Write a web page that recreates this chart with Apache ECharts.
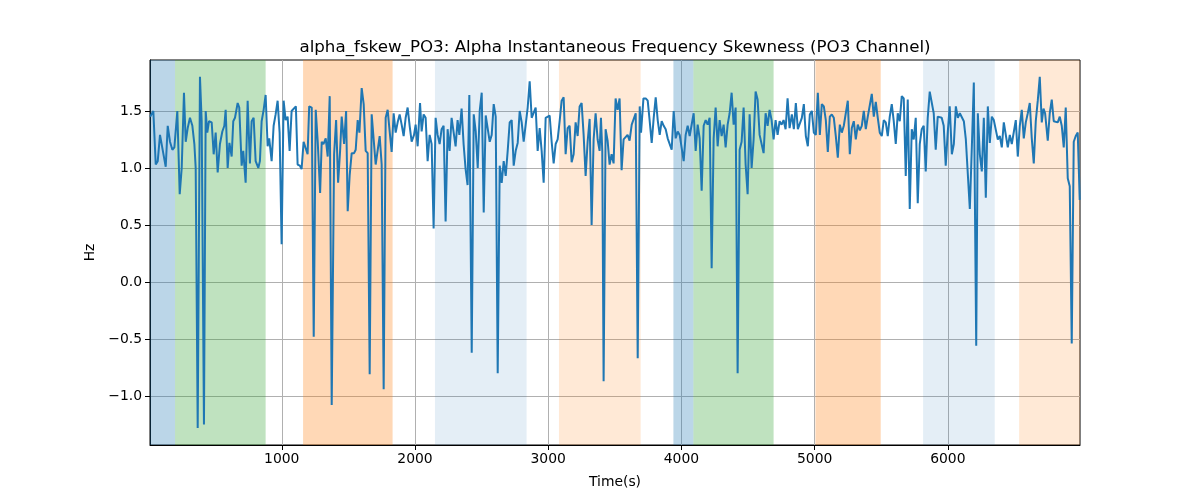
<!DOCTYPE html>
<html>
<head>
<meta charset="utf-8">
<script src="https://cdn.jsdelivr.net/npm/echarts@6/dist/echarts.min.js"></script>
<style>html,body{margin:0;padding:0;background:#fff}#c{width:1200px;height:500px}</style>
</head>
<body>
<div id="c"></div>
<script>
const titleText = 'alpha_fskew_PO3: Alpha Instantaneous Frequency Skewness (PO3 Channel)';
const xLabel = 'Time(s)';
const yLabel = 'Hz';
const xTicks = [1000, 2000, 3000, 4000, 5000, 6000];
const yTicks = [-1.0, -0.5, 0.0, 0.5, 1.0, 1.5];
const xMin = 11, xMax = 6992;
const yMin = -1.43, yMax = 1.947;

const times = [
12,36,54,69,86,99,129,144,161,179,194,216,234,249,266,279,294,311,329,344,354,369,386,399,416,429,441,454,474,489,504,519,536,554,569,579,594,607,624,636,649,669,681,699,711,729,744,761,774,789,804,824,836,849,864,879,894,906,924,939,954,969,984,999,1014,1029,1044,1059,1074,1089,1106,1119,1136,1149,1164,1179,1194,1206,
1225,1240,1255,1270,1288,1300,1313,1330,1345,1360,1375,1393,1408,1423,1438,1450,1468,1483,1495,1510,1525,1543,1555,1570,1583,1600,1615,1630,1645,1660,1675,1690,1705,1720,1735,1750,1765,1780,1795,1810,1825,1840,1855,1870,1885,1900,1915,1930,1945,1960,1975,1993,2005,2020,2038,2050,2065,2080,2095,2110,2125,2140,2155,2170,2185,2200,2215,2230,2245,2260,2275,2290,2305,2320,2333,2350,2365,2380,2395,2408,
2426,2441,2456,2471,2486,2501,2516,2531,2546,2561,2576,2591,2606,2621,2636,2651,2666,2681,2696,2711,2726,2741,2756,2771,2786,2801,2816,2831,2846,2861,2876,2891,2906,2921,2936,2951,2966,2981,2996,3011,3026,3041,3056,3071,3086,3101,3116,3131,3146,3161,3176,3191,3206,3221,3236,3251,3266,3281,3296,3311,3326,3341,3356,3371,3386,3396,3406,3416,3431,3446,3461,3476,3491,3506,3521,3536,3551,3566,3581,3596,3611,
3627,3640,3657,3672,3687,3697,3715,3732,3747,3762,3777,3792,3807,3822,3837,3852,3867,3882,3897,3912,3927,3942,3957,3972,3987,4002,4017,4032,4047,4062,4077,4092,4107,4122,4137,4152,4167,4182,4197,4212,4227,4242,4257,4272,4287,4302,4317,4332,4347,4362,4377,4392,4407,4422,4437,4452,4467,4482,4497,4512,4527,4542,4557,4572,4587,4602,4617,4632,4647,4662,4677,4692,4707,4722,4737,4752,4767,4782,4797,4812,
4829,4844,4859,4874,4889,4904,4919,4934,4949,4964,4979,4994,5009,5024,5039,5054,5069,5084,5099,5114,5129,5144,5159,5174,5189,5204,5219,5234,5249,5264,5279,5294,5309,5324,5339,5354,5369,5384,5399,5414,5429,5444,5459,5474,5489,5504,5519,5534,5549,5564,5579,5594,5609,5624,5639,5654,5669,5684,5699,5714,5729,5744,5759,5774,5789,5804,5819,5834,5849,5864,5879,5894,5909,5924,5939,5954,5969,5984,5999,6014,
6030,6045,6060,6075,6090,6105,6120,6135,6150,6165,6180,6195,6213,6225,6240,6255,6270,6285,6300,6315,6330,6345,6360,6375,6390,6405,6420,6435,6450,6465,6480,6495,6510,6525,6540,6555,6570,6585,6600,6615,6630,6645,6660,6675,6690,6705,6718,6730,6750,6765,6780,6795,6810,6825,6840,6855,6870,6885,6900,6915,6930,6945,6960,6975,6990
];
const values = [
1.45,1.50,1.03,1.06,1.29,1.29,1.01,1.37,1.23,1.16,1.18,1.50,0.77,1.00,1.66,1.23,1.35,1.44,1.37,1.21,1.00,-1.28,1.80,1.41,-1.25,1.50,1.31,1.41,1.40,1.12,1.31,0.96,1.21,1.32,1.37,1.51,1.00,1.22,1.10,1.41,1.44,1.57,1.53,1.02,1.15,0.87,1.59,1.04,1.41,1.44,1.06,1.00,1.06,1.41,1.51,1.64,1.19,1.26,1.06,1.37,1.47,1.59,1.31,0.33,1.59,1.42,1.45,1.15,1.50,1.51,1.54,1.03,1.02,0.99,1.23,1.22,1.12,1.54,
1.53,-0.48,1.51,1.23,0.78,1.23,1.21,1.26,1.10,1.63,-1.08,1.12,1.42,0.87,1.15,1.45,1.21,1.50,0.62,0.94,1.13,1.13,1.16,1.42,1.31,1.70,1.56,1.15,1.13,-0.81,1.47,1.48,1.03,1.04,1.28,1.03,-0.94,1.44,1.51,1.32,1.14,1.48,1.31,1.40,1.47,1.38,1.28,1.44,1.53,1.37,1.23,1.29,1.38,1.19,1.57,1.32,1.47,1.44,1.06,1.29,1.21,0.47,1.44,1.29,1.21,1.34,1.37,0.53,1.34,1.15,1.44,1.44,1.19,1.42,1.29,1.52,1.21,0.99,0.85,1.64,
-0.62,1.47,1.32,1.00,1.50,1.66,0.61,1.46,1.45,1.23,1.29,1.56,1.45,-0.80,1.02,0.87,1.06,0.93,1.15,1.40,1.42,1.02,1.15,1.22,1.50,1.40,1.23,1.24,1.53,1.76,1.44,1.45,1.53,1.15,1.35,1.15,0.87,1.44,1.44,1.46,1.23,1.04,1.21,1.25,1.41,1.59,1.62,1.12,1.35,1.37,1.05,1.12,1.40,1.28,1.54,1.57,1.29,0.93,1.23,1.43,0.50,1.25,1.48,1.25,1.15,1.44,1.15,-0.87,1.34,1.24,1.03,1.12,1.04,1.61,1.51,1.61,0.98,1.25,1.26,1.29,1.24,
1.38,1.37,1.48,-0.67,1.54,1.31,1.61,1.61,1.59,1.41,1.22,1.44,1.62,1.42,1.29,1.41,1.37,1.34,1.26,1.25,1.16,1.50,1.26,1.32,1.29,1.29,1.06,1.29,1.37,1.28,1.29,1.48,1.15,1.38,1.26,0.80,1.37,1.42,1.38,1.44,0.12,1.26,1.53,1.19,1.42,1.28,1.38,1.18,1.38,1.48,1.66,1.38,1.53,-0.80,1.16,1.23,1.53,1.03,0.77,1.47,1.00,1.25,1.67,1.60,1.29,1.28,1.13,1.48,1.37,1.51,1.42,1.25,1.42,1.29,1.41,1.38,1.42,1.34,1.61,1.35,
1.47,1.34,1.57,1.34,1.33,1.44,1.56,1.28,1.19,1.47,1.50,1.31,1.29,1.66,1.29,1.56,1.54,1.42,1.14,1.45,1.47,1.44,1.28,1.09,1.38,1.31,1.37,1.38,1.59,1.12,1.35,1.41,1.25,1.38,1.33,1.37,1.50,1.34,1.45,1.44,1.65,1.45,1.58,1.44,1.31,1.28,1.42,1.40,1.28,1.45,1.56,1.41,1.21,1.48,1.41,1.63,1.61,0.93,1.60,0.64,1.34,1.25,1.44,0.69,1.21,1.34,1.37,0.97,1.44,1.67,1.67,1.48,1.16,1.45,1.45,1.44,1.37,1.02,1.31,1.54,
1.12,1.21,1.54,1.44,1.48,1.48,1.41,1.25,1.24,0.64,1.18,1.75,-0.56,1.48,1.12,0.97,1.44,0.74,1.54,1.22,1.45,1.42,1.42,1.25,1.28,1.18,1.40,1.41,1.18,1.29,1.21,1.21,1.42,1.10,1.37,1.51,1.26,1.40,1.48,1.57,1.26,1.04,1.41,1.59,1.80,1.40,1.52,1.48,1.24,1.48,1.60,1.41,1.42,1.40,1.45,1.37,1.18,1.53,0.91,0.84,-0.54,1.23,1.28,1.31,0.72
];

// shaded spans: start, end, kind
const spanStarts = [11, 199, 1160, 2150, 3081, 3940, 4090, 5006, 5814, 6535];
const spanEnds   = [199, 879, 1832, 2838, 3694, 4090, 4692, 5496, 6352, 6992];
const spanKinds  = ['blue', 'green', 'orange', 'lightblue', 'lightorange', 'blue', 'green', 'orange', 'lightblue', 'lightorange'];

const kindColors = {
  blue: 'rgba(31,119,180,0.3)',
  green: 'rgba(44,160,44,0.3)',
  orange: 'rgba(255,127,14,0.3)',
  lightblue: 'rgba(31,119,180,0.12)',
  lightorange: 'rgba(255,127,14,0.17)'
};

const lineData = times.map((t, i) => [t, values[i]]);
const areas = spanStarts.map((s, i) => [
  { xAxis: s, itemStyle: { color: kindColors[spanKinds[i]] } },
  { xAxis: spanEnds[i] }
]);

const FONT = 'DejaVu Sans';
const fmtY = v => Number(v).toFixed(1).replace('-', '\u2212');
const fmtX = v => String(Math.round(v));

const chart = echarts.init(document.getElementById('c'), null, { renderer: 'canvas' });
chart.setOption({
  animation: false,
  backgroundColor: '#fff',
  title: {
    text: titleText,
    left: 615,
    textAlign: 'center',
    top: 39,
    padding: 0,
    textStyle: { fontFamily: FONT, fontSize: 16.7, fontWeight: 'normal', color: '#000' }
  },
  grid: {
    left: 150, right: 120, top: 60, bottom: 55,
    show: true, borderColor: '#000', borderWidth: 1, backgroundColor: 'transparent'
  },
  xAxis: {
    type: 'value',
    min: xMin, max: xMax,
    name: xLabel,
    nameLocation: 'middle',
    nameGap: 30,
    nameTextStyle: { fontFamily: FONT, fontSize: 13.9, color: '#000' },
    axisLine: { show: true, onZero: false, lineStyle: { color: '#000', width: 1 } },
    axisTick: { show: true, length: 5, lineStyle: { color: '#000' }, customValues: xTicks },
    axisLabel: { fontFamily: FONT, fontSize: 13.9, color: '#000', margin: 7, customValues: xTicks, formatter: fmtX },
    splitLine: { show: true, lineStyle: { color: '#b0b0b0', width: 1 } }
  },
  yAxis: {
    type: 'value',
    min: yMin, max: yMax,
    name: yLabel,
    nameLocation: 'middle',
    nameGap: 46,
    nameTextStyle: { fontFamily: FONT, fontSize: 13.9, color: '#000' },
    axisLine: { show: true, onZero: false, lineStyle: { color: '#000', width: 1 } },
    axisTick: { show: true, length: 5, lineStyle: { color: '#000' }, customValues: yTicks },
    axisLabel: { fontFamily: FONT, fontSize: 13.9, color: '#000', margin: 8, customValues: yTicks, formatter: fmtY },
    splitLine: { show: true, lineStyle: { color: '#b0b0b0', width: 1 } }
  },
  series: [
    {
      type: 'line',
      data: [],
      silent: true,
      z: 1,
      markArea: { silent: true, data: areas }
    },
    {
      type: 'line',
      data: lineData,
      z: 3,
      showSymbol: false,
      symbol: 'none',
      lineStyle: { color: '#1f77b4', width: 2 },
      itemStyle: { color: '#1f77b4' }
    }
  ]
});
</script>
</body>
</html>
